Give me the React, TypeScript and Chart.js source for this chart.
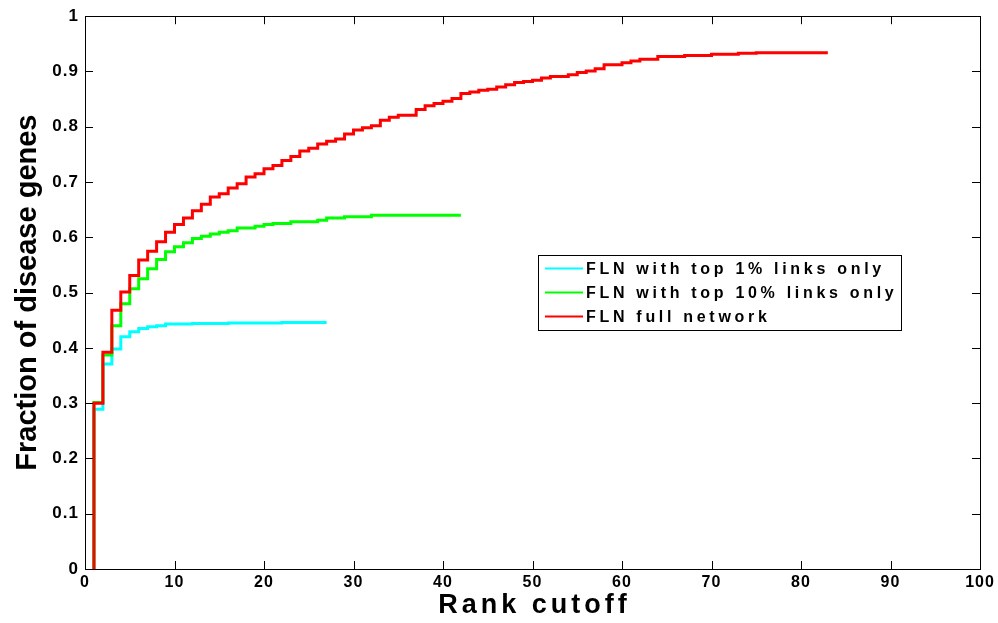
import React, { useEffect, useRef } from "react";
import { Chart, registerables } from "chart.js";

Chart.register(...registerables);

// Fraction of disease genes recovered at each rank cutoff (rank 1, 2, 3, ...)
const cyanTop1Pct = [
  0.289, 0.371, 0.398, 0.42, 0.429, 0.435, 0.438, 0.44, 0.443, 0.443,
  0.443, 0.444, 0.444, 0.444, 0.444, 0.445, 0.445, 0.445, 0.445, 0.445,
  0.445, 0.446, 0.446, 0.446, 0.446, 0.446, 0.446,
];

const greenTop10Pct = [
  0.301, 0.387, 0.44, 0.48, 0.507, 0.525, 0.543, 0.56, 0.574, 0.583,
  0.59, 0.598, 0.602, 0.606, 0.609, 0.612, 0.617, 0.617, 0.62, 0.623,
  0.625, 0.625, 0.628, 0.628, 0.628, 0.631, 0.635, 0.635, 0.637, 0.637,
  0.637, 0.64, 0.64, 0.64, 0.64, 0.64, 0.64, 0.64, 0.64, 0.64,
  0.64, 0.64,
];

const redFullNetwork = [
  0.3, 0.392, 0.468, 0.501, 0.531, 0.559, 0.575, 0.592, 0.609, 0.623,
  0.635, 0.648, 0.66, 0.673, 0.679, 0.689, 0.697, 0.709, 0.715, 0.724,
  0.73, 0.739, 0.746, 0.756, 0.761, 0.769, 0.774, 0.778, 0.787, 0.794,
  0.798, 0.802, 0.812, 0.817, 0.821, 0.821, 0.831, 0.838, 0.842, 0.846,
  0.851, 0.86, 0.863, 0.866, 0.868, 0.872, 0.876, 0.88, 0.882, 0.884,
  0.888, 0.891, 0.891, 0.894, 0.898, 0.901, 0.905, 0.912, 0.912, 0.916,
  0.919, 0.922, 0.922, 0.927, 0.927, 0.927, 0.929, 0.929, 0.929, 0.931,
  0.931, 0.931, 0.933, 0.933, 0.934, 0.934, 0.934, 0.934, 0.934, 0.934,
  0.934, 0.934, 0.934,
];

const FIRST_RANK = 1;
const xTickValues = [0, 10, 20, 30, 40, 50, 60, 70, 80, 90, 100];
const yTickValues = [0, 0.1, 0.2, 0.3, 0.4, 0.5, 0.6, 0.7, 0.8, 0.9, 1];
const seriesLabels = [
  "FLN with top 1% links only",
  "FLN with top 10% links only",
  "FLN full network",
];
const seriesColors = ["#00FFFF", "#00FF00", "#FF0000"];
const xTitle = "Rank cutoff";
const yTitle = "Fraction of disease genes";

const FONT = "'Liberation Sans', Arial, Helvetica, sans-serif";

function toSteps(values: number[]) {
  return [
    { x: FIRST_RANK, y: 0 },
    ...values.map((v, i) => ({ x: FIRST_RANK + i, y: v })),
  ];
}

const framePlugin = {
  id: "matlabFrame",
  beforeDraw(chart: any) {
    const ctx = chart.ctx;
    ctx.save();
    ctx.fillStyle = "#ffffff";
    ctx.fillRect(0, 0, chart.width, chart.height);
    ctx.restore();
    ctx.letterSpacing = "1px";
  },
  afterDraw(chart: any) {
    const { ctx, chartArea, scales } = chart;
    const { left, right, top, bottom } = chartArea;
    const xs = scales.x;
    const ys = scales.y;
    ctx.save();
    ctx.strokeStyle = "#000";
    ctx.lineWidth = 1;
    ctx.strokeRect(Math.round(left) + 0.5, Math.round(top) + 0.5, Math.round(right - left), Math.round(bottom - top));
    const tl = 8;
    ctx.beginPath();
    xTickValues.forEach((v) => {
      const px = Math.round(xs.getPixelForValue(v)) + 0.5;
      ctx.moveTo(px, bottom);
      ctx.lineTo(px, bottom - tl);
      ctx.moveTo(px, top);
      ctx.lineTo(px, top + tl);
    });
    yTickValues.forEach((v) => {
      const py = Math.round(ys.getPixelForValue(v)) + 0.5;
      ctx.moveTo(left, py);
      ctx.lineTo(left + tl, py);
      ctx.moveTo(right, py);
      ctx.lineTo(right - tl, py);
    });
    ctx.stroke();

    // Axis titles
    ctx.fillStyle = "#000";
    ctx.textAlign = "center";
    ctx.textBaseline = "middle";
    ctx.letterSpacing = "4px";
    ctx.font = `bold 27px ${FONT}`;
    ctx.fillText(xTitle, (left + right) / 2 + 2, 606);

    ctx.letterSpacing = "0px";
    ctx.save();
    ctx.translate(28, (top + bottom) / 2);
    ctx.rotate(-Math.PI / 2);
    ctx.font = `bold 29px ${FONT}`;
    ctx.fillText(yTitle, 0, 0);
    ctx.restore();

    // Legend
    const bx = 538.5, by = 255.5, bw = 363, bh = 75;
    ctx.fillStyle = "#fff";
    ctx.fillRect(bx, by, bw, bh);
    ctx.strokeStyle = "#000";
    ctx.lineWidth = 1;
    ctx.strokeRect(bx, by, bw, bh);
    const rows = [268.5, 292.5, 316.5];
    ctx.font = `bold 16px ${FONT}`;
    ctx.letterSpacing = "3.7px";
    ctx.textAlign = "left";
    seriesLabels.forEach((label, i) => {
      ctx.strokeStyle = seriesColors[i];
      ctx.lineWidth = 2;
      ctx.beginPath();
      ctx.moveTo(545, rows[i]);
      ctx.lineTo(583, rows[i]);
      ctx.stroke();
      ctx.fillStyle = "#000";
      ctx.fillText(label, 586, rows[i] + 1);
    });
    ctx.restore();
    ctx.letterSpacing = "1px";
  },
};

export default function App() {
  const canvasRef = useRef<HTMLCanvasElement | null>(null);

  useEffect(() => {
    const canvas = canvasRef.current;
    if (!canvas) return;
    const seriesData = [cyanTop1Pct, greenTop10Pct, redFullNetwork];
    const chart = new Chart(canvas, {
      type: "line",
      data: {
        datasets: seriesData.map((vals, i) => ({
          label: seriesLabels[i],
          data: toSteps(vals),
          borderColor: seriesColors[i],
          backgroundColor: seriesColors[i],
          borderWidth: 3,
          pointRadius: 0,
          pointHoverRadius: 0,
          stepped: "before" as const,
          fill: false,
          order: 3 - i,
        })),
      },
      options: {
        responsive: false,
        animation: false,
        devicePixelRatio: 1,
        events: [],
        layout: { padding: { left: 0, top: 14, right: 18, bottom: 0 } },
        plugins: {
          legend: { display: false },
          tooltip: { enabled: false },
          title: { display: false },
        },
        scales: {
          x: {
            type: "linear",
            min: 0,
            max: 100,
            afterFit: (s: any) => {
              s.height = 54;
            },
            afterBuildTicks: (s: any) => {
              s.ticks = xTickValues.map((v) => ({ value: v }));
            },
            grid: { display: false, drawTicks: false },
            border: { display: false },
            ticks: {
              color: "#000",
              padding: 4,
              maxRotation: 0,
              autoSkip: false,
              font: { family: FONT, size: 16, weight: "bold" },
              callback: (v: any) => String(v),
            },
          },
          y: {
            type: "linear",
            min: 0,
            max: 1,
            afterFit: (s: any) => {
              s.width = 85;
            },
            afterBuildTicks: (s: any) => {
              s.ticks = yTickValues.map((v) => ({ value: v }));
            },
            grid: { display: false, drawTicks: false },
            border: { display: false },
            ticks: {
              color: "#000",
              padding: 6,
              autoSkip: false,
              font: { family: FONT, size: 17, weight: "bold" },
              callback: (v: any) => String(Math.round(Number(v) * 10) / 10),
            },
          },
        },
      },
      plugins: [framePlugin],
    });
    return () => chart.destroy();
  }, []);

  return (
    <div style={{ position: "absolute", left: 0, top: 0, width: 998, height: 623, background: "#fff" }}>
      <canvas ref={canvasRef} width={998} height={623} style={{ display: "block", width: 998, height: 623 }} />
    </div>
  );
}
